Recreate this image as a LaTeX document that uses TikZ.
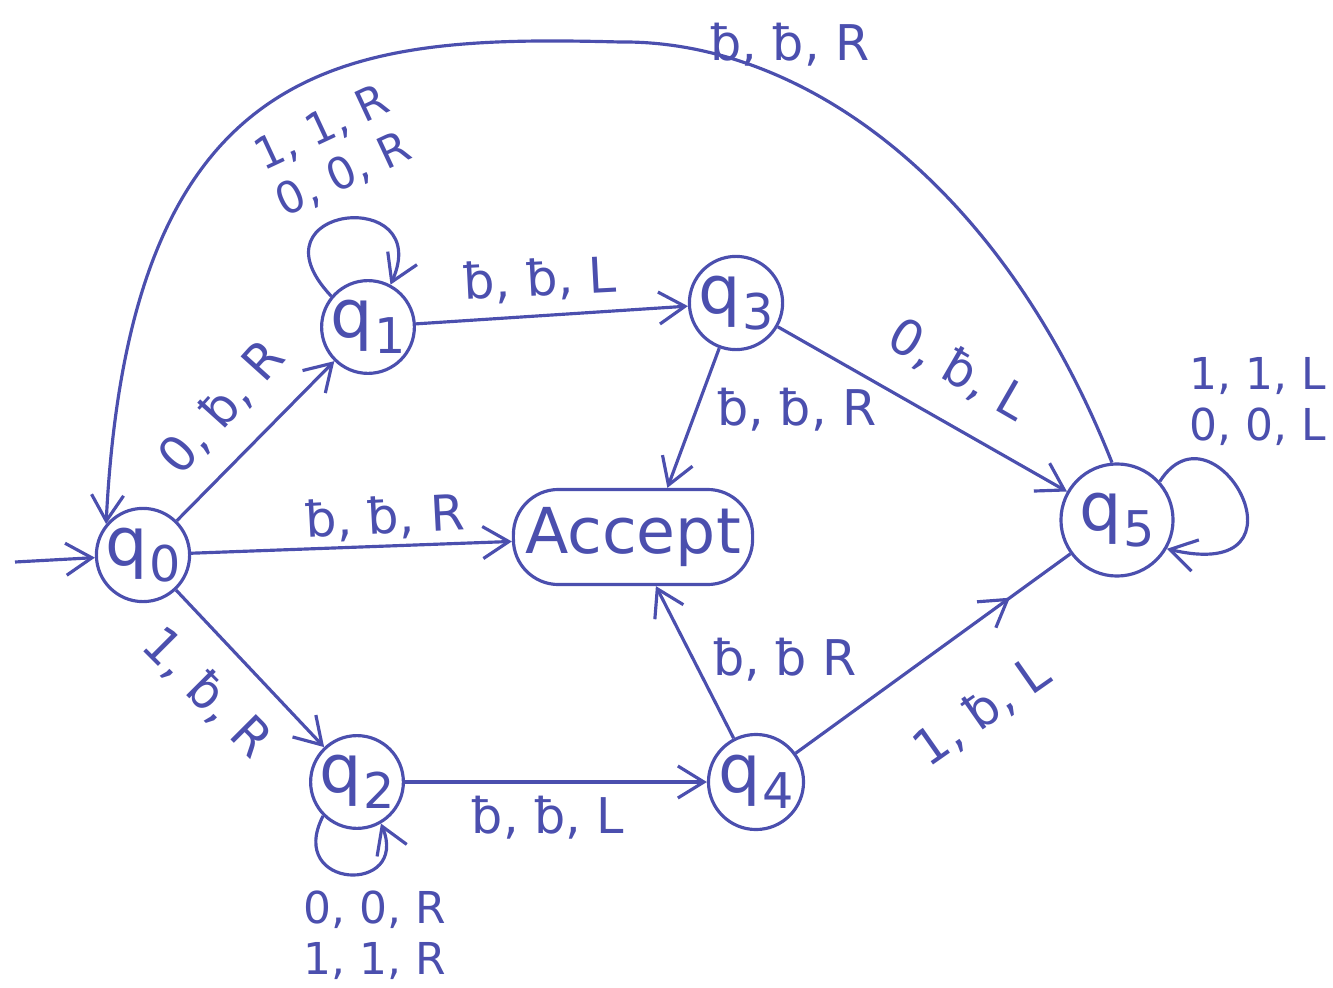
\documentclass[tikz,border=0pt]{standalone}
\usepackage{fontspec}
\setmainfont{DejaVu Sans}
\usetikzlibrary{arrows.meta,decorations.markings}
\definecolor{ink}{HTML}{4B4FAE}
\newcommand{\blk}{ƀ}
\newcommand{\qs}[1]{q\kern0.03em\raisebox{-0.45ex}{\fontsize{14}{15}\selectfont #1}}
\tikzset{
  state/.style={draw=ink, circle, line width=0.9pt, inner sep=0pt, text=ink, font=\fontsize{19}{21}\selectfont},
  acc/.style={draw=ink, rectangle, rounded corners=0.45cm, line width=0.9pt, minimum width=2.35cm, minimum height=0.95cm, text=ink, font=\fontsize{18}{20}\selectfont},
  conn/.style={draw=ink, line width=0.9pt, -{Straight Barb[length=2.6mm,width=3.2mm]}},
  lab/.style={text=ink, font=\fontsize{14}{15.5}\selectfont, align=center, inner sep=1pt},
  looplab/.style={lab, font=\fontsize{12.5}{14.5}\selectfont},
  midarrow/.style={postaction={decorate}, decoration={markings, mark=at position #1 with {\arrow{Straight Barb[length=2.6mm,width=3.2mm]}}}}
}
\begin{document}
\begin{tikzpicture}[x=0.01cm,y=-0.01cm]
\useasboundingbox (0,0) rectangle (1333,988);
% states
\node[state, minimum size=0.8cm] (q0) at (143,555) {\qs{0}};
\node[state, minimum size=0.9cm] (q1) at (368,327) {\qs{1}};
\node[state, minimum size=0.88cm] (q2) at (357,782) {\qs{2}};
\node[state, minimum size=0.9cm] (q3) at (736,303) {\qs{3}};
\node[state, minimum size=0.95cm] (q4) at (756,782) {\qs{4}};
\node[state, minimum size=1.12cm] (q5) at (1117,520) {\qs{5}};
\node[acc] (acc) at (633,537) {Accept};
\coordinate (start) at (15,562);
% edges
\draw[conn] (start) -- (q0);
\draw[conn] (q0) -- (q1);
\draw[conn] (q1) -- (q3);
\draw[conn] (q0) -- (acc);
\draw[conn] (q3) -- (acc.55);
\draw[conn] (q3) -- (q5);
\draw[conn] (q0) -- (q2);
\draw[conn] (q2) -- (q4);
\draw[conn] (q4) -- (acc.-65);
\draw[draw=ink, line width=0.9pt, midarrow=0.78] (q4) -- (q5);
% loops
\draw[conn] (q1.140) .. controls (245,205) and (435,185) .. (q1.62);
\draw[conn] (q2.225) .. controls (285,890) and (410,895) .. (q2.300);
\draw[conn] (q5.42) .. controls (1215,395) and (1320,585) .. (q5.-30);
% big arc
\draw[conn] (q5.95) .. controls (1000,180) and (800,40) .. (620,42)
  .. controls (350,35) and (130,50) .. (q0.140);
% labels
\node[lab, rotate=48] (l01) at (222,408) {0, \blk, R};
\node[looplab, rotate=25] (l11) at (333,152) {1, 1, R\\0, 0, R};
\node[lab, rotate=3] (l13) at (540,280) {\blk, \blk, L};
\node[lab] (l50) at (790,45) {\blk, \blk, R};
\node[lab, rotate=3] (l0a) at (385,518) {\blk, \blk, R};
\node[lab] (l3a) at (797,410) {\blk, \blk, R};
\node[lab, rotate=-30] (l35) at (958,370) {0, \blk, L};
\node[looplab, anchor=east] (l55) at (1330,402) {1, 1, L\\0, 0, L};
\node[lab, rotate=-45] (l02) at (207,693) {1, \blk, R};
\node[looplab] (l22) at (375,935) {0, 0, R\\1, 1, R};
\node[lab] (l24) at (548,818) {\blk, \blk, L};
\node[lab] (l4a) at (785,660) {\blk, \blk\ R};
\node[lab, rotate=35] (l45) at (982,712) {1, \blk, L};
\end{tikzpicture}
\end{document}
